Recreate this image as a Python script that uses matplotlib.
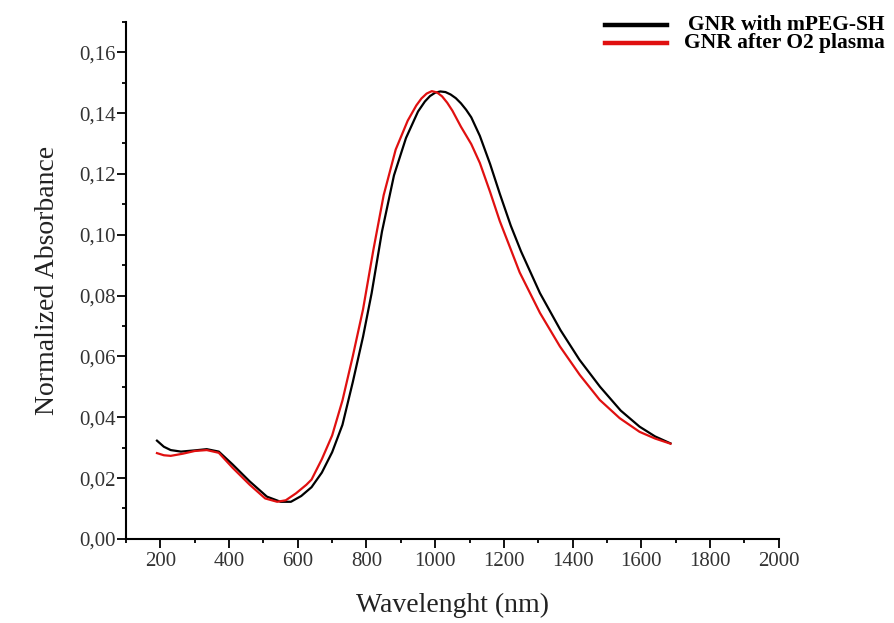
import matplotlib
matplotlib.use("Agg")
import matplotlib.pyplot as plt
from matplotlib import ticker
from matplotlib.lines import Line2D

wl_peg = [190, 210, 230, 260, 300, 335, 370, 410, 460, 510, 550, 580, 610,
          640, 670, 700, 730, 760, 790, 815, 845, 880, 915, 950, 970, 985,
          1000, 1015, 1030, 1045, 1060, 1075, 1090, 1105, 1130, 1160, 1188,
          1220, 1250, 1305, 1365, 1420, 1480, 1540, 1595, 1640, 1685]
abs_peg = [0.0323, 0.0303, 0.0292, 0.0287, 0.0291, 0.0295, 0.0287, 0.0245,
           0.0189, 0.0139, 0.0122, 0.0122, 0.0141, 0.0170, 0.0218, 0.0285,
           0.0375, 0.0515, 0.0665, 0.0808, 0.1010, 0.1195, 0.1318, 0.1405,
           0.1438, 0.1456, 0.1467, 0.1471, 0.1469, 0.1461, 0.1449, 0.1432,
           0.1411, 0.1386, 0.1325, 0.1232, 0.1135, 0.1030, 0.0945, 0.0808,
           0.0686, 0.0589, 0.0500, 0.0422, 0.0369, 0.0337, 0.0314]

wl_o2 = [190, 210, 230, 265, 300, 335, 370, 410, 460, 505, 540, 565, 595,
         625, 640, 670, 700, 730, 760, 790, 820, 850, 885, 920, 945, 960,
         975, 990, 1005, 1020, 1035, 1050, 1075, 1105, 1130, 1160, 1188,
         1220, 1246, 1305, 1363, 1421, 1479, 1537, 1595, 1640, 1685]
abs_o2 = [0.0282, 0.0275, 0.0273, 0.0280, 0.0289, 0.0292, 0.0283, 0.0234,
          0.0178, 0.0133, 0.0122, 0.0127, 0.0150, 0.0178, 0.0195, 0.0262,
          0.0340, 0.0455, 0.0600, 0.0755, 0.0950, 0.1130, 0.1280, 0.1375,
          0.1425, 0.1448, 0.1464, 0.1472, 0.1468, 0.1455, 0.1434, 0.1408,
          0.1355, 0.1298, 0.1236, 0.1140, 0.1045, 0.0952, 0.0876, 0.0743,
          0.0633, 0.0539, 0.0457, 0.0397, 0.0352, 0.0330, 0.0313]

labels = ["GNR with mPEG-SH", "GNR after O2 plasma"]
colors = ["black", "#e01010"]

plt.rcParams["font.family"] = ["Liberation Serif", "DejaVu Serif"]

fig = plt.figure(figsize=(8.94, 6.23), dpi=100)
ax = fig.add_axes([0.141, 0.135, 0.730, 0.830])

ax.plot(wl_peg, abs_peg, color=colors[0], lw=1.6)
ax.plot(wl_o2, abs_o2, color=colors[1], lw=1.6)

ax.set_xlim(100, 2000)
ax.set_ylim(0, 0.17)
ax.xaxis.set_major_locator(ticker.MultipleLocator(200))
ax.xaxis.set_minor_locator(ticker.MultipleLocator(100))
ax.yaxis.set_major_locator(ticker.MultipleLocator(0.02))
ax.yaxis.set_minor_locator(ticker.MultipleLocator(0.01))
ax.yaxis.set_major_formatter(
    ticker.FuncFormatter(lambda v, p: f"{v:.2f}".replace(".", ",")))

for side in ["top", "right"]:
    ax.spines[side].set_visible(False)
for side in ["left", "bottom"]:
    ax.spines[side].set_linewidth(1.5)

ax.tick_params(which="major", direction="out", length=6.5, width=1.3,
               labelsize=15, colors="black", labelcolor="#333333")
ax.tick_params(which="minor", direction="out", length=3, width=1.3)
ax.tick_params(axis="y", pad=1)
ax.tick_params(axis="x", pad=3)

ax.set_xlabel("Wavelenght (nm)", fontsize=20, color="#222222", labelpad=16)
ax.set_ylabel("Normalized Absorbance", fontsize=20, color="#222222",
              labelpad=14)

# legend drawn in figure coordinates, sitting above the plot at top right
for (y, c) in zip([0.960, 0.931], colors):
    fig.add_artist(Line2D([605 / 894, 667 / 894], [y, y], color=c, lw=3.2,
                          transform=fig.transFigure))
fig.text(688 / 894, 0.960, labels[0], fontsize=15.5, fontweight="bold",
         va="center", ha="left")
fig.text(684 / 894, 0.931, labels[1], fontsize=15.5, fontweight="bold",
         va="center", ha="left")

fig.savefig("out.png", dpi=100)
